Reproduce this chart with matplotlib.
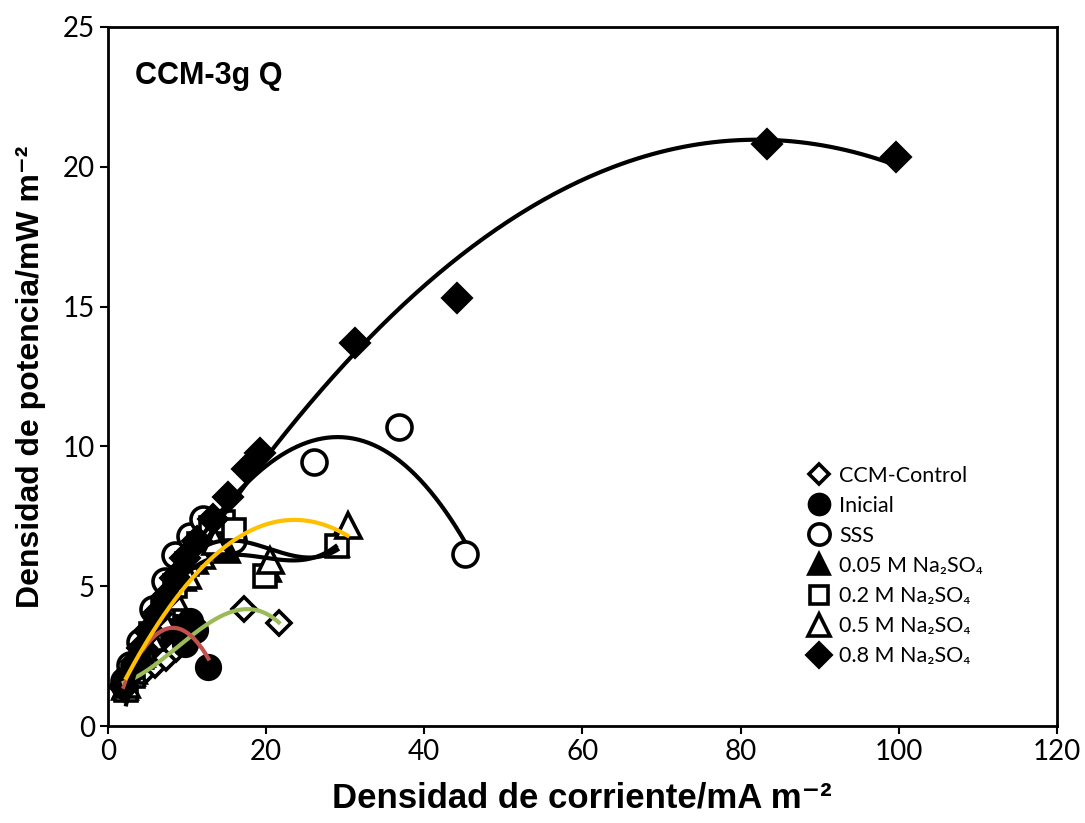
import numpy as np
import matplotlib
matplotlib.use("Agg")
from matplotlib import pyplot as plt

# data (x: mA m-2, y: mW m-2)
control_x = [2.0, 2.8, 3.8, 4.8, 6.0, 7.3, 8.6, 17.2, 21.6]
control_y = [1.5, 1.65, 1.85, 2.0, 2.2, 2.45, 2.75, 4.2, 3.7]

inicial_x = [2.0, 2.7, 3.5, 4.3, 5.2, 6.2, 7.3, 8.5, 9.7, 10.4, 11.0, 12.7]
inicial_y = [1.45, 1.9, 2.3, 2.65, 2.95, 3.2, 3.4, 3.55, 2.95, 3.75, 3.45, 2.1]

sss_x = [2.0, 2.8, 4.0, 5.7, 7.2, 8.5, 10.4, 12.0, 15.8, 26.1, 36.8, 45.1]
sss_y = [1.6, 2.2, 3.0, 4.2, 5.2, 6.1, 6.8, 7.4, 6.65, 9.45, 10.7, 6.15]

m005_x = [2.2, 3.0, 4.0, 5.2, 6.5, 8.0, 9.5, 11.0, 12.8, 15.0, 20.2, 28.8]
m005_y = [1.4, 1.9, 2.5, 3.2, 3.9, 4.6, 5.3, 5.9, 6.4, 6.3, 5.6, 6.5]

m02_x = [2.3, 3.2, 4.3, 5.5, 7.0, 8.5, 10.0, 11.5, 13.0, 14.5, 16.0, 19.8, 29.0]
m02_y = [1.3, 1.8, 2.5, 3.3, 4.2, 5.0, 5.8, 6.5, 7.1, 7.3, 7.0, 5.35, 6.45]

m05_x = [2.3, 3.2, 4.2, 5.4, 6.8, 8.3, 10.0, 11.8, 13.6, 20.5, 30.3]
m05_y = [1.5, 2.0, 2.6, 3.2, 3.9, 4.6, 5.4, 6.1, 6.6, 5.95, 7.2]

m08_x = [2.0, 2.7, 3.5, 4.3, 5.2, 6.2, 7.3, 8.5, 9.8, 11.2, 13.3, 15.2,
         17.6, 19.2, 31.2, 44.1, 83.3, 99.7]
m08_y = [1.4, 1.8, 2.3, 2.8, 3.4, 4.0, 4.6, 5.3, 6.0, 6.6, 7.4, 8.2,
         9.2, 9.75, 13.7, 15.3, 20.8, 20.35]

labels = ['CCM-Control', 'Inicial', 'SSS', '0.05 M Na₂SO₄', '0.2 M Na₂SO₄',
          '0.5 M Na₂SO₄', '0.8 M Na₂SO₄']

# x, y, marker, face, size, trendline colour, polynomial order
series = [
    (control_x, control_y, 'D', 'white', 12, '#9BBB59', 3),
    (inicial_x, inicial_y, 'o', 'black', 17, '#C0504D', 2),
    (sss_x, sss_y, 'o', 'white', 18, 'black', 3),
    (m005_x, m005_y, '^', 'black', 17, 'black', 3),
    (m02_x, m02_y, 's', 'white', 16, 'black', 3),
    (m05_x, m05_y, '^', 'white', 18, '#FFC000', 2),
    (m08_x, m08_y, 'D', 'black', 14, 'black', 2),
]

fig = plt.figure(figsize=(10.85, 8.23), dpi=100)
ax = fig.add_axes([0.0995, 0.1178, 0.8745, 0.8494])

for (x, y, mk, fc, ms, lc, order), lab in zip(series, labels):
    ax.plot(x, y, linestyle='none', marker=mk, markersize=ms,
            markerfacecolor=fc, markeredgecolor='black', markeredgewidth=2.6,
            label=lab, zorder=3)

# polynomial trendlines (as in the spreadsheet)
for x, y, mk, fc, ms, lc, order in series:
    coef = np.polyfit(x, y, order)
    xs = np.linspace(min(x), max(x), 200)
    ax.plot(xs, np.polyval(coef, xs), color=lc, linewidth=3, zorder=4)

ax.set_xlim(0, 120)
ax.set_ylim(0, 25)
ax.set_xticks(np.arange(0, 121, 20))
ax.set_yticks(np.arange(0, 26, 5))
ax.tick_params(direction='out', length=6, width=1.5, labelsize=20)
for lab in ax.get_xticklabels() + ax.get_yticklabels():
    lab.set_family('Lato')
for sp in ax.spines.values():
    sp.set_linewidth(2)

ax.set_xlabel('Densidad de corriente/mA m⁻²', fontsize=25, fontweight='bold',
              family=['Liberation Sans', 'DejaVu Sans'], labelpad=12)
ax.set_ylabel('Densidad de potencia/mW m⁻²', fontsize=23, fontweight='bold',
              family=['Liberation Sans', 'DejaVu Sans'], labelpad=12)

ax.text(0.028, 0.93, 'CCM-3g Q', transform=ax.transAxes, fontsize=22,
        fontweight='bold', family='Liberation Sans', va='center')

leg = ax.legend(loc='center left', bbox_to_anchor=(0.715, 0.229), frameon=False,
                prop={'family': ['Lato', 'DejaVu Sans'], 'size': 15.5},
                handletextpad=0.35, labelspacing=0.47, handlelength=1.2,
                markerscale=0.85)

fig.savefig('out.png', dpi=100)
